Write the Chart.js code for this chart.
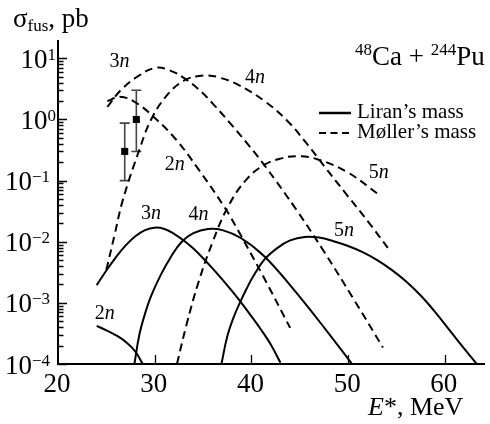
<!DOCTYPE html>
<html>
<head>
<meta charset="utf-8">
<script src="https://cdn.jsdelivr.net/npm/chart.js@4.4.1/dist/chart.umd.min.js"></script>
<style>
  html, body { margin: 0; padding: 0; background: #fff; }
  canvas { display: block; }
</style>
</head>
<body>
<canvas id="chart" width="490" height="424"></canvas>
<script>
// Fusion cross sections (pb) versus excitation energy E* (MeV), 48Ca + 244Pu

// Liran's mass (solid curves)
const energyLiran2n = [24.0, 25.0, 26.0, 27.0, 28.0, 28.75];
const sigmaLiran2n  = [4.2e-4, 3.55e-4, 2.95e-4, 2.3e-4, 1.6e-4, 1.0e-4];

const energyLiran3n = [24.0, 25.0, 26.0, 27.0, 28.0, 29.0, 30.0, 31.0, 32.0, 33.0, 34.0, 35.0, 36.0, 37.0, 38.0, 39.0, 40.0, 41.0, 42.0, 43.0];
const sigmaLiran3n  = [0.00195, 0.00339, 0.00562, 0.00871, 0.0123, 0.0155, 0.0170, 0.0162, 0.0135, 0.0105, 0.00776, 0.00537, 0.00363, 0.0024, 0.00155, 0.00098, 0.000603, 0.000363, 0.000209, 0.000105];

const energyLiran4n = [27.9, 28.4, 28.9, 29.6, 30.6, 31.7, 32.8, 34.0, 35.5, 37.0, 38.9, 41.35, 44.25, 47.6, 50.4];
const sigmaLiran4n  = [1.0e-4, 2.95e-4, 5.9e-4, 0.00126, 0.00282, 0.00575, 0.0100, 0.0138, 0.0162, 0.0155, 0.0115, 0.00575, 0.00174, 0.00038, 1.0e-4];

const energyLiran5n = [36.9, 37.5, 38.2, 38.8, 39.5, 40.2, 41.35, 42.7, 44.0, 45.5, 47.0, 48.5, 50.0, 51.5, 53.0, 54.5, 56.0, 57.5, 59.0, 60.5, 62.0, 63.3];
const sigmaLiran5n  = [1.0e-4, 2.82e-4, 6.03e-4, 0.001, 0.0017, 0.00275, 0.00513, 0.00794, 0.0105, 0.0120, 0.0117, 0.0102, 0.00851, 0.00676, 0.00501, 0.00347, 0.00224, 0.00132, 0.000708, 0.000355, 0.000178, 1.0e-4];

// Møller's mass (dashed curves)
const energyMoller2n = [25.1, 26.4, 27.9, 29.9, 32.2, 34.55, 37.3, 38.6, 41.2, 44.0];
const sigmaMoller2n  = [2.0, 2.35, 1.95, 1.10, 0.47, 0.151, 0.035, 0.0155, 0.00275, 0.00039];

const energyMoller3n = [25.1, 26.5, 28.2, 30.1, 31.6, 33.2, 34.5, 36.0, 37.9, 39.6, 41.35, 44.75, 47.5, 50.5, 53.6];
const sigmaMoller3n  = [1.61, 3.02, 5.01, 7.0, 6.31, 4.57, 3.16, 1.82, 0.832, 0.398, 0.178, 0.0316, 0.00692, 0.0012, 0.000186];

const energyMoller4n = [25.0, 25.85, 26.7, 28.4, 29.7, 31.5, 33.2, 34.55, 35.5, 36.6, 38.6, 41.35, 43.7, 45.75, 47.5, 49.9, 52.2, 54.1];
const sigmaMoller4n  = [0.00347, 0.0129, 0.0479, 0.316, 1.05, 2.75, 4.47, 5.13, 5.25, 4.9, 3.72, 2.0, 0.955, 0.398, 0.174, 0.0575, 0.02, 0.00794];

const energyMoller5n = [32.3, 33.3, 34.55, 36.0, 37.6, 39.5, 41.35, 43.0, 44.75, 46.8, 49.9, 53.1];
const sigmaMoller5n  = [1.0e-4, 4.47e-4, 0.00224, 0.01, 0.038, 0.105, 0.182, 0.229, 0.251, 0.224, 0.138, 0.0603];

// Measured points with error bars
const expEnergy = [26.9, 28.1];
const expSigma  = [0.30, 1.0];
const expLow    = [0.10, 0.30];
const expHigh   = [0.87, 3.0];

// Axis ticks
const xTickValues = [20, 30, 40, 50, 60];
const yDecades = [-4, -3, -2, -1, 0, 1];

// Channel labels next to the curves: [number, E*, sigma]
const channelLabels = [
  ['3', 25.32, 7.3],
  ['2', 31.05, 0.149],
  ['4', 39.34, 3.95],
  ['5', 52.13, 0.110],
  ['3', 28.59, 0.0235],
  ['4', 33.5, 0.0227],
  ['2', 23.79, 5.45e-4],
  ['5', 48.55, 0.0122]
];

const SERIF = '"Liberation Serif", "Times New Roman", serif';
const DASH = [8, 5];

function zip(xs, ys) { return xs.map((x, i) => ({ x: x, y: ys[i] })); }

function curve(xs, ys, dashed) {
  return {
    data: zip(xs, ys),
    borderColor: '#000',
    borderWidth: 2,
    borderDash: dashed ? DASH : [],
    pointRadius: 0,
    fill: false,
    tension: 0.4
  };
}

function fontOf(p) { return (p.italic ? 'italic ' : '') + p.size + 'px ' + SERIF; }

function drawRuns(ctx, parts, x, y, align) {
  let w = 0;
  parts.forEach(p => { ctx.font = fontOf(p); p.w = ctx.measureText(p.t).width; w += p.w; });
  let cx = align === 'right' ? x - w : (align === 'center' ? x - w / 2 : x);
  parts.forEach(p => { ctx.font = fontOf(p); ctx.fillText(p.t, cx, y + (p.dy || 0)); cx += p.w; });
}

const decorations = {
  id: 'decorations',
  beforeDatasetsDraw(chart) {
    const ctx = chart.ctx, xs = chart.scales.x, ys = chart.scales.y;
    ctx.save();
    ctx.strokeStyle = '#444';
    ctx.lineWidth = 1.6;
    expEnergy.forEach((e, i) => {
      const px = xs.getPixelForValue(e);
      const top = ys.getPixelForValue(expHigh[i]);
      const bot = ys.getPixelForValue(expLow[i]);
      ctx.beginPath();
      ctx.moveTo(px, top); ctx.lineTo(px, bot);
      ctx.moveTo(px - 5, top); ctx.lineTo(px + 5, top);
      ctx.moveTo(px - 5, bot); ctx.lineTo(px + 5, bot);
      ctx.stroke();
    });
    ctx.restore();
  },
  afterDraw(chart) {
    const ctx = chart.ctx, xs = chart.scales.x, ys = chart.scales.y;
    const area = chart.chartArea;
    ctx.save();
    ctx.fillStyle = '#000';
    ctx.strokeStyle = '#000';
    ctx.textBaseline = 'alphabetic';
    ctx.textAlign = 'left';

    // axis lines
    ctx.lineWidth = 2;
    ctx.beginPath();
    ctx.moveTo(area.left, area.top);
    ctx.lineTo(area.left, area.bottom);
    ctx.lineTo(area.right, area.bottom);
    ctx.stroke();

    // y ticks (inward), majors at decades and minors at 2..9
    ctx.lineWidth = 1.3;
    ctx.beginPath();
    yDecades.forEach(n => {
      for (let k = 1; k <= 9; k++) {
        const v = k * Math.pow(10, n);
        if (v < ys.min || v > ys.max * 1.0001) continue;
        const py = Math.round(ys.getPixelForValue(v)) + 0.5;
        const len = k === 1 ? 9 : 5.5;
        ctx.moveTo(area.left, py);
        ctx.lineTo(area.left + len, py);
      }
    });
    ctx.stroke();

    // x ticks (inward)
    ctx.beginPath();
    xTickValues.forEach(v => {
      if (v === xs.min) return;
      const px = Math.round(xs.getPixelForValue(v)) + 0.5;
      ctx.moveTo(px, area.bottom);
      ctx.lineTo(px, area.bottom - 9);
    });
    ctx.stroke();

    // y tick labels 10^n
    yDecades.forEach(n => {
      const py = ys.getPixelForValue(Math.pow(10, n));
      const exp = n < 0 ? '\u2212' + (-n) : String(n);
      drawRuns(ctx, [{ t: '10', size: 27 }, { t: exp, size: 17, dy: -8 }], n < 0 ? 50 : 56, py + 9.5, 'right');
    });

    // x tick labels
    ctx.font = '27px ' + SERIF;
    ctx.textAlign = 'center';
    xTickValues.forEach(v => {
      ctx.fillText(String(v), xs.getPixelForValue(v) - 1, 392);
    });
    ctx.textAlign = 'left';

    // axis titles
    drawRuns(ctx, [{ t: '\u03c3', size: 27 }, { t: 'fus', size: 17, dy: 3.5 }, { t: ', pb', size: 27 }], 13, 27, 'left');
    drawRuns(ctx, [{ t: 'E', size: 26, italic: true }, { t: '*, MeV', size: 26 }], 368, 415, 'left');

    // reaction
    drawRuns(ctx, [
      { t: '48', size: 17, dy: -10 }, { t: 'Ca + ', size: 27 },
      { t: '244', size: 17, dy: -10 }, { t: 'Pu', size: 27 }
    ], 355, 65, 'left');

    // legend
    ctx.lineWidth = 2.5;
    ctx.setLineDash([]);
    ctx.beginPath(); ctx.moveTo(319, 113); ctx.lineTo(351, 113); ctx.stroke();
    ctx.lineWidth = 2;
    ctx.setLineDash([7, 4.5]);
    ctx.beginPath(); ctx.moveTo(319, 133); ctx.lineTo(351, 133); ctx.stroke();
    ctx.setLineDash([]);
    ctx.font = '21px ' + SERIF;
    ctx.fillText('Liran\u2019s mass', 357, 118);
    ctx.fillText('M\u00f8ller\u2019s mass', 357, 138);

    // channel labels
    channelLabels.forEach(([num, e, s]) => {
      drawRuns(ctx, [{ t: num, size: 20 }, { t: 'n', size: 20, italic: true }],
        xs.getPixelForValue(e), ys.getPixelForValue(s), 'left');
    });

    ctx.restore();
  }
};

new Chart(document.getElementById('chart'), {
  type: 'line',
  data: {
    datasets: [
      curve(energyLiran2n, sigmaLiran2n, false),
      curve(energyLiran3n, sigmaLiran3n, false),
      curve(energyLiran4n, sigmaLiran4n, false),
      curve(energyLiran5n, sigmaLiran5n, false),
      curve(energyMoller2n, sigmaMoller2n, true),
      curve(energyMoller3n, sigmaMoller3n, true),
      curve(energyMoller4n, sigmaMoller4n, true),
      curve(energyMoller5n, sigmaMoller5n, true),
      {
        data: zip(expEnergy, expSigma),
        showLine: false,
        pointStyle: 'rect',
        pointRadius: 5,
        pointBackgroundColor: '#000',
        pointBorderColor: '#000',
        pointBorderWidth: 0
      }
    ]
  },
  options: {
    responsive: false,
    animation: false,
    devicePixelRatio: 1,
    layout: { padding: { top: 40, right: 0, left: 0, bottom: 0 } },
    plugins: { legend: { display: false }, tooltip: { enabled: false } },
    scales: {
      x: {
        type: 'linear',
        min: 20,
        max: 64.15,
        ticks: { display: false },
        grid: { display: false },
        border: { display: false },
        afterFit(scale) { scale.height = 60; }
      },
      y: {
        type: 'logarithmic',
        min: 1e-4,
        max: 19.95,
        ticks: { display: false },
        grid: { display: false },
        border: { display: false },
        afterFit(scale) { scale.width = 58; }
      }
    }
  },
  plugins: [decorations]
});
</script>
</body>
</html>
